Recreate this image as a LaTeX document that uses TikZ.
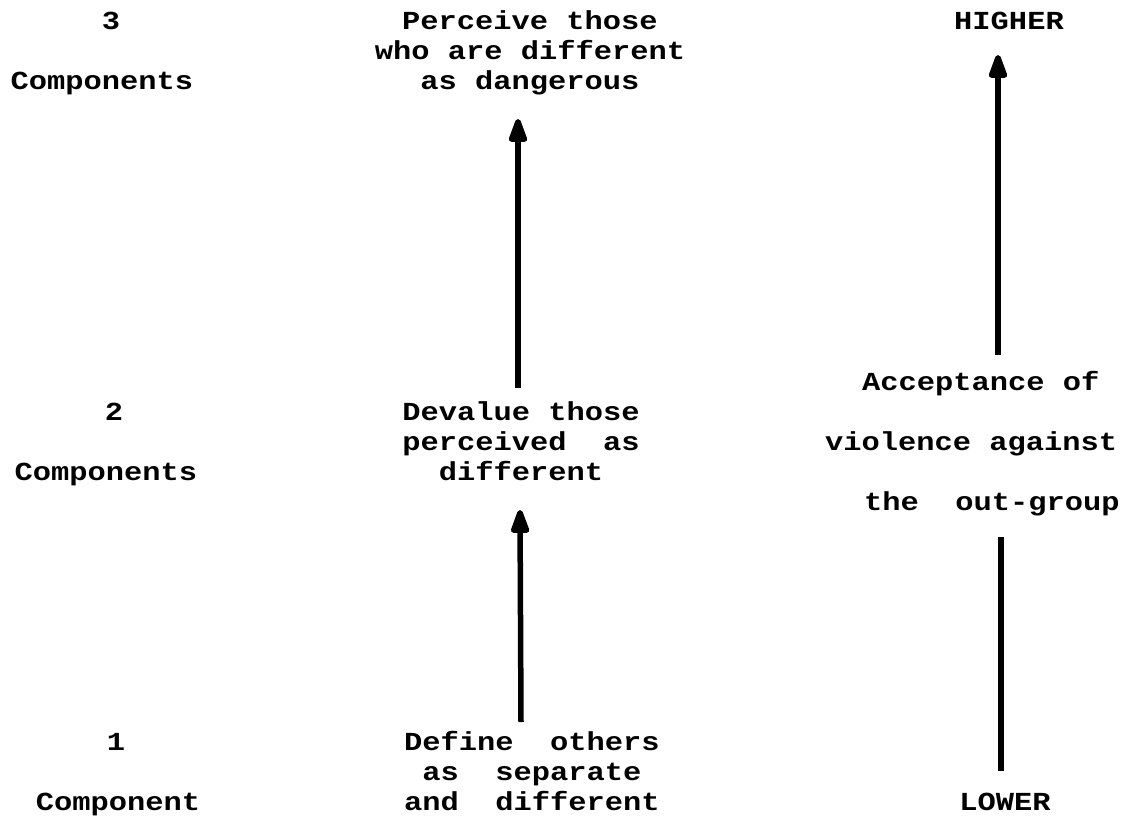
\documentclass[tikz,border=0pt]{standalone}
\usepackage{fontspec}
\setmainfont{Liberation Mono}[FakeStretch=1.17]
\usetikzlibrary{arrows.meta}
\tikzset{
  txt/.style={font=\fontsize{26}{30}\selectfont\bfseries, align=center, inner sep=0pt, anchor=base},
  txtw/.style={txt, anchor=base west},
  uparrow/.style={line width=5.5pt, -{Triangle[width=19pt,length=29pt,round]}},
  plainline/.style={line width=5.5pt}
}
\begin{document}
\begin{tikzpicture}[x=1pt,y=-1pt]
\useasboundingbox (0,0) rectangle (1128,824);
% column 1
\node[txt] (n3) at (111,30) {3};
\node[txt] (c3) at (102,90) {Components};
\node[txt] (n2) at (114,420) {2};
\node[txt] (c2) at (106,480) {Components};
\node[txt] (n1) at (116,750) {1};
\node[txt] (c1) at (118,810) {Component};
% column 2 (anchor = baseline of last line)
\node[txt] (top) at (530,90) {Perceive those\\who are different\\as dangerous};
\node[txt] (mid) at (521,480) {Devalue those\\perceived\ \ as\\different};
\node[txt] (bot) at (532,810) {Define\ \ others\\as\ \ separate\\and\ \ different};
\coordinate (a1s) at (518,388);
\coordinate (a1e) at (518,119);
\coordinate (a2s) at (521,722);
\coordinate (a2e) at (520,510);
\draw[uparrow] (a1s) -- (a1e);
\draw[uparrow] (a2s) -- (a2e);
% column 3
\node[txt] (hi) at (1009,30) {HIGHER};
\node[txtw] (r1) at (862,390) {Acceptance of};
\node[txtw] (r2) at (825,450) {violence against};
\node[txtw] (r3) at (864,510) {the\ \ out-group};
\node[txt] (lo) at (1005,810) {LOWER};
\coordinate (a3s) at (998,355);
\coordinate (a3e) at (998,55);
\coordinate (l1s) at (1001,537);
\coordinate (l1e) at (1001,771);
\draw[uparrow] (a3s) -- (a3e);
\draw[plainline] (l1s) -- (l1e);
\end{tikzpicture}
\end{document}
